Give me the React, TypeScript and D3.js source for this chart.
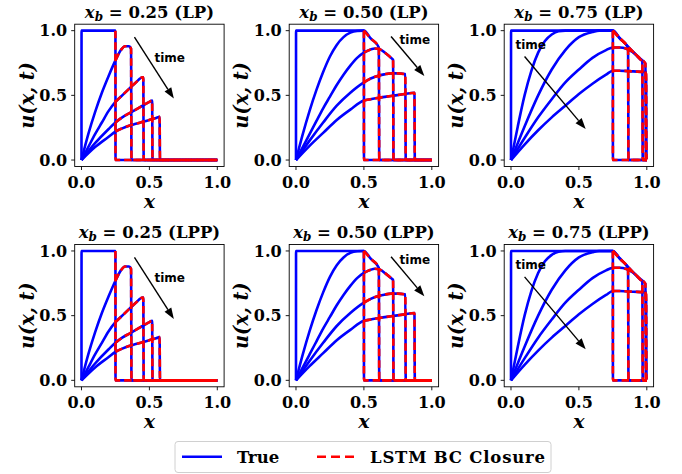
import React from 'react';
import * as d3 from 'd3';

type Pt = [number, number];

// ---------- data ----------
const xbValues = [0.25, 0.5, 0.75];
const xbLabels = ['0.25', '0.50', '0.75'];
const methods = ['LP', 'LPP'];
const xTicks = [0, 0.5, 1];
const yTicks = [0, 0.5, 1];
const tickLabels = ['0.0', '0.5', '1.0'];

// x_b = 0.25
const xb25_t0: Pt[] = [[0, 0], [0.0005, 1], [0.25, 1], [0.2505, 0], [1, 0]];
const xb25_t1: Pt[] = [[0, 0], [0.05, 0.2], [0.1, 0.37], [0.15, 0.52], [0.2, 0.65], [0.25, 0.77], [0.29, 0.85], [0.32, 0.88], [0.35, 0.88], [0.365, 0.86], [0.368, 0], [1, 0]];
const xb25_t2: Pt[] = [[0, 0], [0.05, 0.1], [0.1, 0.2], [0.15, 0.29], [0.2, 0.38], [0.25, 0.45], [0.3, 0.5], [0.35, 0.55], [0.4, 0.6], [0.45, 0.64], [0.455, 0.64], [0.458, 0], [1, 0]];
const xb25_t3: Pt[] = [[0, 0], [0.1, 0.13], [0.2, 0.24], [0.25, 0.29], [0.3, 0.33], [0.35, 0.36], [0.4, 0.39], [0.45, 0.42], [0.5, 0.45], [0.52, 0.46], [0.523, 0], [1, 0]];
const xb25_t4: Pt[] = [[0, 0], [0.1, 0.1], [0.2, 0.18], [0.25, 0.22], [0.3, 0.245], [0.35, 0.265], [0.4, 0.28], [0.45, 0.295], [0.5, 0.31], [0.55, 0.325], [0.575, 0.335], [0.578, 0], [1, 0]];

// x_b = 0.50
const xb50_t0: Pt[] = [[0, 0], [0.0005, 1], [0.5, 1], [0.5005, 0], [1, 0]];
const xb50_t1: Pt[] = [[0, 0], [0.05, 0.2], [0.1, 0.38], [0.15, 0.54], [0.2, 0.68], [0.25, 0.8], [0.3, 0.89], [0.35, 0.95], [0.4, 0.985], [0.45, 0.998], [0.5, 1.0], [0.55, 0.94], [0.61, 0.87], [0.613, 0], [1, 0]];
const xb50_t2: Pt[] = [[0, 0], [0.05, 0.1], [0.1, 0.2], [0.15, 0.3], [0.2, 0.4], [0.25, 0.49], [0.3, 0.58], [0.35, 0.66], [0.4, 0.73], [0.45, 0.79], [0.5, 0.83], [0.55, 0.855], [0.58, 0.862], [0.62, 0.855], [0.66, 0.825], [0.7, 0.79], [0.715, 0.775], [0.718, 0], [1, 0]];
const xb50_t3: Pt[] = [[0, 0], [0.1, 0.15], [0.2, 0.29], [0.3, 0.42], [0.4, 0.52], [0.5, 0.6], [0.55, 0.63], [0.6, 0.65], [0.65, 0.662], [0.7, 0.67], [0.75, 0.67], [0.8, 0.665], [0.805, 0.664], [0.808, 0], [1, 0]];
const xb50_t4: Pt[] = [[0, 0], [0.1, 0.11], [0.2, 0.21], [0.3, 0.31], [0.4, 0.39], [0.5, 0.46], [0.55, 0.47], [0.6, 0.48], [0.7, 0.495], [0.8, 0.51], [0.872, 0.52], [0.875, 0], [1, 0]];

// x_b = 0.75
const xb75_t0: Pt[] = [[0, 0], [0.0005, 1], [0.75, 1], [0.7505, 0], [1, 0]];
const xb75_t1: Pt[] = [[0, 0], [0.05, 0.26], [0.1, 0.5], [0.15, 0.69], [0.2, 0.83], [0.25, 0.92], [0.3, 0.97], [0.35, 0.995], [0.4, 1.0], [0.75, 1.0], [0.8, 0.94], [0.862, 0.868], [0.865, 0], [1, 0]];
const xb75_t2: Pt[] = [[0, 0], [0.1, 0.26], [0.2, 0.5], [0.3, 0.7], [0.4, 0.85], [0.5, 0.95], [0.6, 0.99], [0.65, 1.0], [0.75, 1.0], [0.8, 0.945], [0.85, 0.89], [0.9, 0.835], [0.95, 0.78], [0.967, 0.762], [0.97, 0], [1, 0]];
const xb75_t3: Pt[] = [[0, 0], [0.1, 0.17], [0.2, 0.33], [0.3, 0.47], [0.4, 0.6], [0.5, 0.7], [0.6, 0.79], [0.7, 0.85], [0.75, 0.87], [0.8, 0.87], [0.85, 0.86], [0.9, 0.832], [0.95, 0.785], [0.99, 0.745], [0.993, 0], [1, 0]];
const xb75_t4: Pt[] = [[0, 0], [0.1, 0.12], [0.2, 0.23], [0.3, 0.33], [0.4, 0.42], [0.5, 0.51], [0.6, 0.59], [0.7, 0.66], [0.75, 0.69], [0.8, 0.69], [0.9, 0.685], [0.995, 0.68], [0.998, 0], [1, 0]];

const curvesByXb: Pt[][][] = [
  [xb25_t0, xb25_t1, xb25_t2, xb25_t3, xb25_t4],
  [xb50_t0, xb50_t1, xb50_t2, xb50_t3, xb50_t4],
  [xb75_t0, xb75_t1, xb75_t2, xb75_t3, xb75_t4],
];

// "time" arrow annotations (data coordinates)
const arrowStart: Pt[] = [[0.39, 0.95], [0.7, 0.955], [0.1, 0.8]];
const arrowEnd: Pt[] = [[0.68, 0.475], [0.945, 0.65], [0.55, 0.24]];
const timeLabelPos: Pt[] = [[0.65, 0.79], [0.875, 0.93], [0.145, 0.89]];

const legendLabels = ['True', 'LSTM BC Closure'];

// ---------- layout ----------
const W = 682;
const H = 474;
const colLeft = [74.7, 289.2, 504.2];
const rowTop = [24.2, 244.5];
const boxW = 149.4;
const boxH = 142.3;
const BLUE = '#0000ff';
const RED = '#ff0000';
const SERIF = "'DejaVu Serif', serif";
const SANS = "'DejaVu Sans', sans-serif";

function Panel({ row, col }: { row: number; col: number }) {
  const left = colLeft[col];
  const top = rowTop[row];
  const xb = xbValues[col];
  const x = d3.scaleLinear().domain([-0.05, 1.05]).range([left, left + boxW]);
  const y = d3.scaleLinear().domain([-0.05, 1.05]).range([top + boxH, top]);
  const line = d3
    .line<Pt>()
    .x((d) => x(d[0]))
    .y((d) => y(d[1]))
    .curve(d3.curveMonotoneX);
  const curves = curvesByXb[col];
  const clipId = `clip-${row}-${col}`;

  const s = arrowStart[col];
  const e = arrowEnd[col];
  const sx = x(s[0]), sy = y(s[1]), ex = x(e[0]), ey = y(e[1]);
  const ang = Math.atan2(ey - sy, ex - sx);
  const headL = 11, headW = 4;
  const bx = ex - headL * Math.cos(ang), by = ey - headL * Math.sin(ang);
  const p1 = [bx + headW * Math.sin(ang), by - headW * Math.cos(ang)];
  const p2 = [bx - headW * Math.sin(ang), by + headW * Math.cos(ang)];
  const lp = timeLabelPos[col];

  const cx = left + boxW / 2;
  return (
    <g>
      <defs>
        <clipPath id={clipId}>
          <rect x={left} y={top} width={boxW} height={boxH} />
        </clipPath>
      </defs>
      <g clipPath={`url(#${clipId})`}>
        {curves.map((c, i) => (
          <path key={'b' + i} d={line(c) || ''} fill="none" stroke={BLUE} strokeWidth={2.6} strokeLinejoin="round" />
        ))}
        {curves.map((c, i) => (
          <path
            key={'r' + i}
            d={line(c.filter((p) => p[0] >= xb)) || ''}
            fill="none"
            stroke={RED}
            strokeWidth={2.6}
            strokeDasharray="7.5,4"
          />
        ))}
        <line x1={sx} y1={sy} x2={bx} y2={by} stroke="#000" strokeWidth={1.4} />
        <polygon points={`${ex},${ey} ${p1[0]},${p1[1]} ${p2[0]},${p2[1]}`} fill="#000" />
        <text x={x(lp[0])} y={y(lp[1])} dy="0.35em" textAnchor="middle" fontFamily={SANS} fontWeight="bold" fontSize={12} fill="#000">
          time
        </text>
      </g>
      <rect x={left} y={top} width={boxW} height={boxH} fill="none" stroke="#000" strokeWidth={0.9} />
      {xTicks.map((t, i) => (
        <g key={'xt' + i}>
          <line x1={x(t)} x2={x(t)} y1={top + boxH} y2={top + boxH + 3.5} stroke="#000" strokeWidth={0.9} />
          <text x={x(t)} y={top + boxH + 21} textAnchor="middle" fontFamily={SERIF} fontWeight="bold" fontSize={16}>
            {tickLabels[i]}
          </text>
        </g>
      ))}
      {yTicks.map((t, i) => (
        <g key={'yt' + i}>
          <line x1={left - 3.5} x2={left} y1={y(t)} y2={y(t)} stroke="#000" strokeWidth={0.9} />
          <text x={left - 7.5} y={y(t)} dy="0.36em" textAnchor="end" fontFamily={SERIF} fontWeight="bold" fontSize={16}>
            {tickLabels[i]}
          </text>
        </g>
      ))}
      <text x={cx} y={top - 6.5} textAnchor="middle" fontFamily={SERIF} fontWeight="bold" fontSize={16.5}>
        <tspan fontStyle="italic">x</tspan>
        <tspan fontStyle="italic" fontSize={12} dy={3}>b</tspan>
        <tspan dy={-3}>{` = ${xbLabels[col]} (${methods[row]})`}</tspan>
      </text>
      <text x={cx} y={top + boxH + 41.5} textAnchor="middle" fontFamily={SERIF} fontWeight="bold" fontStyle="italic" fontSize={19}>
        x
      </text>
      <text
        transform={`translate(${left - 41},${top + boxH / 2}) rotate(-90)`}
        textAnchor="middle"
        fontFamily={SERIF}
        fontWeight="bold"
        fontStyle="italic"
        fontSize={19.5}
      >
        u(x, t)
      </text>
    </g>
  );
}

export default function App() {
  const panels: { row: number; col: number }[] = [];
  methods.forEach((_, r) => xbValues.forEach((__, c) => panels.push({ row: r, col: c })));
  const ly = 456.7;
  return (
    <svg width={W} height={H} style={{ position: 'absolute', left: 0, top: 0, background: '#fff' }}>
      <rect x={0} y={0} width={W} height={H} fill="#fff" />
      {panels.map((p) => (
        <Panel key={`${p.row}-${p.col}`} row={p.row} col={p.col} />
      ))}
      <rect x={175} y={441.5} width={376} height={31} rx={3} fill="#fff" stroke="#d0d0d0" strokeWidth={1} />
      <line x1={182} x2={222} y1={ly} y2={ly} stroke={BLUE} strokeWidth={2.6} />
      <text x={237} y={ly} dy="0.36em" fontFamily={SERIF} fontWeight="bold" fontSize={16.5}>
        {legendLabels[0]}
      </text>
      <line x1={317} x2={355} y1={ly} y2={ly} stroke={RED} strokeWidth={2.6} strokeDasharray="9,5" />
      <text x={370} y={ly} dy="0.36em" fontFamily={SERIF} fontWeight="bold" fontSize={16.5} textLength={175} lengthAdjust="spacing">
        {legendLabels[1]}
      </text>
    </svg>
  );
}
